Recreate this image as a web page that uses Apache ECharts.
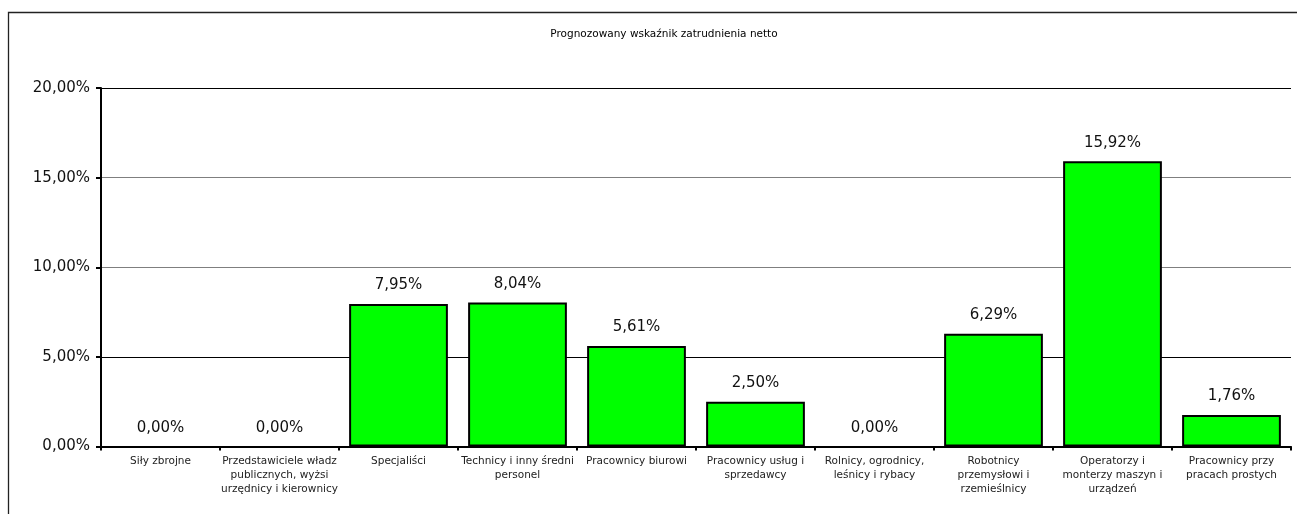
<!DOCTYPE html>
<html>
<head>
<meta charset="utf-8">
<script src="https://cdn.jsdelivr.net/npm/echarts@6/dist/echarts.min.js"></script>
<style>
html,body{margin:0;padding:0;background:#fff;}
#chart{width:1297px;height:514px;}
</style>
</head>
<body>
<div id="chart"></div>
<script>
const titleText = 'Prognozowany wskaźnik zatrudnienia netto';
const categories = [
  'Siły zbrojne',
  'Przedstawiciele władz\npublicznych, wyżsi\nurzędnicy i kierownicy',
  'Specjaliści',
  'Technicy i inny średni\npersonel',
  'Pracownicy biurowi',
  'Pracownicy usług i\nsprzedawcy',
  'Rolnicy, ogrodnicy,\nleśnicy i rybacy',
  'Robotnicy\nprzemysłowi i\nrzemieślnicy',
  'Operatorzy i\nmonterzy maszyn i\nurządzeń',
  'Pracownicy przy\npracach prostych'
];
const values = [0, 0, 7.95, 8.04, 5.61, 2.50, 0, 6.29, 15.92, 1.76];
const yMin = 0, yMax = 20, yStep = 5;

const fmt = v => v.toFixed(2).replace('.', ',') + '%';
const FONT = '"DejaVu Sans", Verdana, sans-serif';

const seriesData = values.map(v => v === 0 ? {value: v, itemStyle: {borderWidth: 0}} : v);

const chart = echarts.init(document.getElementById('chart'));
chart.setOption({
  animation: false,
  backgroundColor: '#fff',
  title: {
    text: titleText,
    left: 659, top: 24, textAlign: 'center',
    textStyle: {fontFamily: FONT, fontSize: 10.5, fontWeight: 'normal', color: '#000'}
  },
  graphic: [{
    type: 'rect', silent: true, z: -1,
    shape: {x: 8.5, y: 12.5, width: 1400, height: 600},
    style: {fill: 'none', stroke: '#222', lineWidth: 1.3}
  }],
  grid: {left: 101, right: 6, top: 88, bottom: 67.5, containLabel: false},
  xAxis: {
    type: 'category',
    data: categories,
    axisLine: {lineStyle: {color: '#000', width: 2}},
    axisTick: {show: true, length: 4, alignWithLabel: false, lineStyle: {color: '#000', width: 2}},
    axisLabel: {
      interval: 0, margin: 8, fontFamily: FONT, fontSize: 10.5, lineHeight: 14, color: '#222',
      verticalAlign: 'top'
    },
    splitLine: {show: false}
  },
  yAxis: {
    type: 'value',
    min: yMin, max: yMax, interval: yStep,
    axisLine: {show: true, lineStyle: {color: '#000', width: 2}},
    axisTick: {show: true, length: 5, lineStyle: {color: '#000', width: 2}},
    axisLabel: {
      margin: 11, fontFamily: FONT, fontSize: 15, color: '#111',
      formatter: v => fmt(v)
    },
    splitLine: {show: true, lineStyle: {color: ['#000', '#000', '#7f7f7f', '#7f7f7f', '#000'], width: 1.2}}
  },
  series: [{
    type: 'bar',
    data: seriesData,
    barWidth: '83%',
    itemStyle: {color: '#00ff00', borderColor: '#000', borderWidth: 2},
    label: {
      show: true, position: 'top', distance: 11,
      fontFamily: FONT, fontSize: 15, color: '#111',
      formatter: p => fmt(p.value)
    }
  }]
});
</script>
</body>
</html>
